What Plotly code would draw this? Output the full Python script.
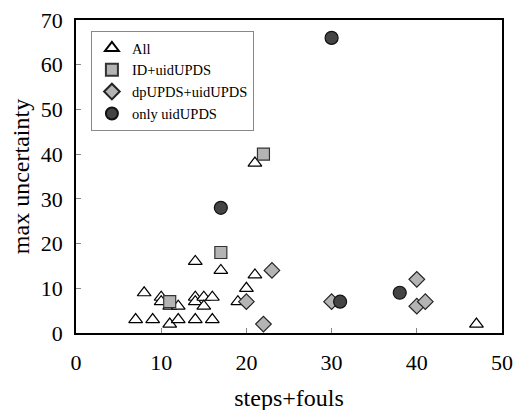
import plotly.graph_objects as go

all_x = [7, 8, 9, 10, 10, 11, 11, 12, 12, 14, 14, 14, 15, 15, 16, 16, 14, 17, 19, 20, 21, 21, 47]
all_y = [3, 9, 3, 8, 7, 2, 6, 6, 3, 3, 8, 7, 8, 6, 8, 3, 16, 14, 7, 10, 13, 38, 2]

id_x = [11, 17, 22]
id_y = [7, 18, 40]

dp_x = [20, 22, 23, 30, 40, 40, 41]
dp_y = [7, 2, 14, 7, 12, 6, 7]

only_x = [17, 30, 31, 38]
only_y = [28, 66, 7, 9]

font = "Liberation Serif"

fig = go.Figure()
fig.add_trace(go.Scatter(x=all_x, y=all_y, mode="markers", name="All",
    marker=dict(symbol="triangle-up", size=12, color="white",
                line=dict(color="black", width=1.2))))
fig.add_trace(go.Scatter(x=id_x, y=id_y, mode="markers", name="ID+uidUPDS",
    marker=dict(symbol="square", size=12, color="#b4b4b4",
                line=dict(color="#333333", width=1.2))))
fig.add_trace(go.Scatter(x=dp_x, y=dp_y, mode="markers", name="dpUPDS+uidUPDS",
    marker=dict(symbol="diamond", size=12, color="#b4b4b4",
                line=dict(color="#222222", width=1.2))))
fig.add_trace(go.Scatter(x=only_x, y=only_y, mode="markers", name="only uidUPDS",
    marker=dict(symbol="circle", size=13, color="#444444",
                line=dict(color="#111111", width=1.2))))

fig.update_layout(
    width=528, height=410,
    margin=dict(l=68, r=34, t=12, b=85),
    paper_bgcolor="white", plot_bgcolor="white",
    font=dict(family=font, color="black", size=20),
    legend=dict(x=0.035, y=0.965, xanchor="left", yanchor="top",
                bordercolor="#888888", borderwidth=1, bgcolor="white",
                font=dict(family=font, size=14.5, color="black"), tracegroupgap=0,
                itemwidth=30, itemsizing="constant"),
    xaxis=dict(range=[0, 50], dtick=10, showgrid=False, zeroline=False,
               showline=True, linecolor="black", linewidth=1.5, mirror=True,
               ticks="inside", ticklen=5, tickcolor="#888888",
               tickfont=dict(family=font, size=22, color="black"),
               ticklabelstandoff=9, ticklabeloverflow="allow", automargin=False,
               title=dict(text="steps+fouls", font=dict(family=font, size=24, color="black"), standoff=15)),
    yaxis=dict(range=[0, 70], dtick=10, showgrid=False, zeroline=False,
               showline=True, linecolor="black", linewidth=1.5, mirror=True,
               ticks="inside", ticklen=5, tickcolor="#888888",
               tickfont=dict(family=font, size=22, color="black"),
               ticklabelstandoff=7, ticklabeloverflow="allow", automargin=False,
               title=dict(text="max uncertainty", font=dict(family=font, size=24, color="black"), standoff=6)),
)

fig.write_html("out.html")
